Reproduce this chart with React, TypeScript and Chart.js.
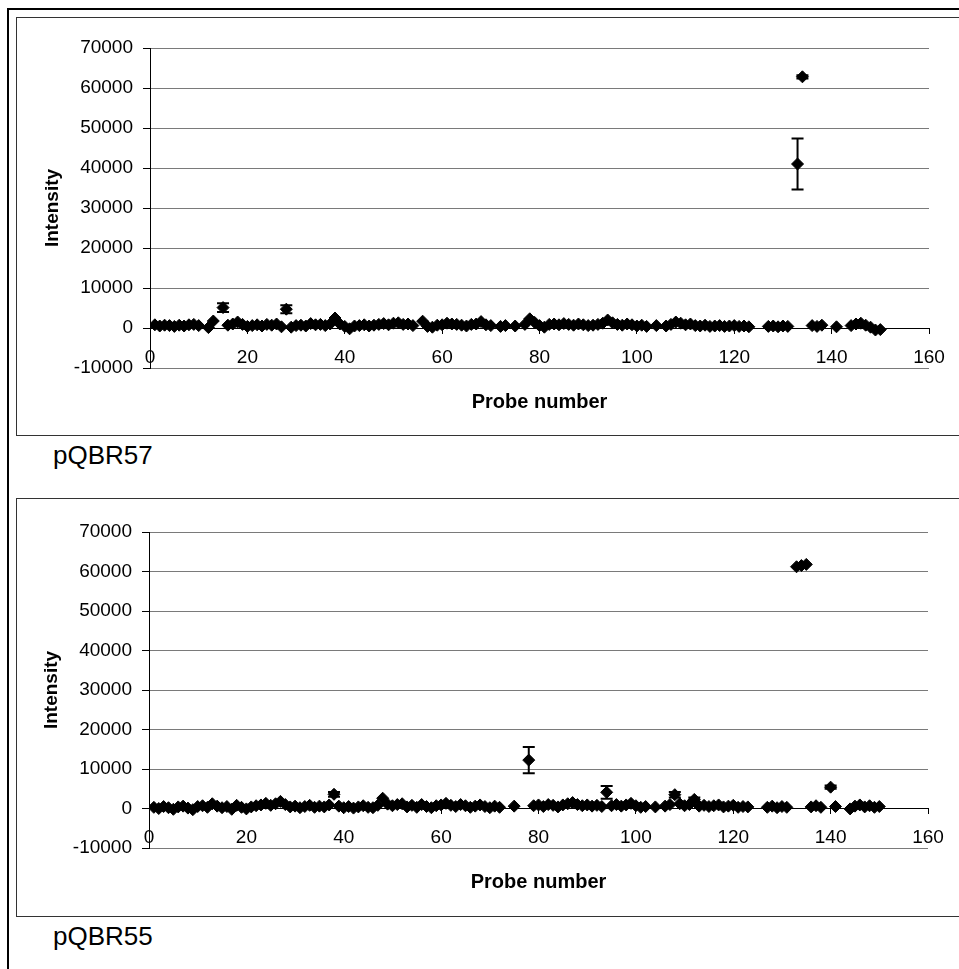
import React, { useEffect, useRef } from "react";
import { Chart, registerables } from "chart.js";

Chart.register(...registerables);

// ---------- data ----------
const probeNumbers: number[] = Array.from({ length: 150 }, (_, i) => i + 1);
const xTickValues = [0, 20, 40, 60, 80, 100, 120, 140, 160];
const yTickValues = [-10000, 0, 10000, 20000, 30000, 40000, 50000, 60000, 70000];

// pQBR57 intensities, probes 1..150 (null = no probe plotted)
const intensity57: (number | null)[] = [
  800, 500, 700, 600, 400, 700, 500, 800, 900, 600,
  null, 100, 1750, null, 5100, 700, 1000, 1500, 900, 400,
  600, 800, 500, 900, 700, 1000, 300, 4700, 200, 600,
  700, 500, 1100, 800, 900, 600, 1000, 2500, 1000, 400,
  -200, 500, 600, 800, 500, 700, 900, 1100, 800, 1200,
  1300, 900, 1000, 600, null, 1700, 400, 200, 700, 800,
  1200, 1000, 900, 700, 500, 900, 1000, 1600, 800, 600,
  null, 400, 600, null, 500, null, 900, 2300, 1400, 600,
  200, 900, 1000, 800, 1100, 900, 700, 1000, 800, 600,
  700, 900, 1200, 2000, 1300, 900, 700, 1000, 800, 500,
  700, 400, null, 600, null, 500, 900, 1500, 1200, 800,
  1000, 600, 500, 700, 400, 500, 600, 400, 500, 600,
  400, 500, 300, null, null, null, 400, 500, 300, 500,
  400, null, 41000, 62800, null, 600, 400, 700, null, null,
  300, null, null, 600, 1000, 1200, 700, 200, -500, -400,
];
const errProbes57 = [15, 28, 133, 134];
const errSizes57 = [1100, 1000, 6400, 400];

// pQBR55 intensities, probes 1..150
const intensity55: (number | null)[] = [
  300, 0, 500, 200, -200, 400, 600, 100, -300, 500,
  700, 300, 1200, 600, 200, 500, -200, 800, 300, -100,
  400, 700, 900, 1300, 800, 1200, 1800, 1000, 400, 600,
  200, 500, 800, 300, 600, 400, 900, 3600, 600, 200,
  500, 100, 400, 700, 300, 200, 800, 2600, 1100, 700,
  1000, 1200, 400, 800, 300, 1000, 500, 200, 700, 900,
  1300, 800, 500, 1000, 700, 300, 600, 900, 500, 200,
  600, 300, null, null, 600, null, null, 12250, 700, 900,
  500, 1000, 800, 400, 900, 1200, 1500, 1000, 700, 900,
  600, 800, 500, 4100, 700, 1000, 600, 900, 1300, 700,
  300, 500, null, 400, null, 600, 1000, 3500, 1200, 700,
  1000, 2300, 600, 800, 500, 700, 900, 400, 600, 800,
  300, 500, 400, null, null, null, 300, 600, 200, 500,
  300, null, 61200, 61500, 61800, 400, 700, 300, null, 5400,
  500, null, null, -100, 600, 900, 400, 700, 300, 500,
];
const errProbes55 = [38, 78, 94, 108, 112, 140];
const errSizes55 = [600, 3300, 1600, 700, 500, 400];

// ---------- plugins ----------
const errorBarPlugin = {
  id: "errorBars",
  afterDatasetsDraw(chart: any, _args: any, opts: any) {
    const { ctx } = chart;
    const xs = chart.scales.x;
    const ys = chart.scales.y;
    const probes: number[] = opts.probes || [];
    const sizes: number[] = opts.sizes || [];
    const values: (number | null)[] = opts.values || [];
    ctx.save();
    ctx.strokeStyle = "#000";
    ctx.lineWidth = 2;
    probes.forEach((p, i) => {
      const v = values[p - 1];
      if (v == null) return;
      const px = xs.getPixelForValue(p);
      const y1 = ys.getPixelForValue(v + sizes[i]);
      const y2 = ys.getPixelForValue(v - sizes[i]);
      ctx.beginPath();
      ctx.moveTo(px, y1);
      ctx.lineTo(px, y2);
      ctx.moveTo(px - 6, y1);
      ctx.lineTo(px + 6, y1);
      ctx.moveTo(px - 6, y2);
      ctx.lineTo(px + 6, y2);
      ctx.stroke();
    });
    ctx.restore();
  },
};

const xTitlePlugin = {
  id: "xTitle",
  afterDraw(chart: any, _args: any, opts: any) {
    const { ctx, chartArea } = chart;
    ctx.save();
    ctx.fillStyle = "#000";
    ctx.font = 'bold 20px "Liberation Sans", Arial, sans-serif';
    ctx.textAlign = "center";
    ctx.textBaseline = "alphabetic";
    ctx.fillText(opts.text, (chartArea.left + chartArea.right) / 2, chartArea.bottom + opts.offset);
    ctx.restore();
  },
};

type Geom = { padLeft: number; axisWidth: number; padTop: number; padRight: number; padBottom: number };

function makeConfig(values: (number | null)[], errProbes: number[], errSizes: number[], g: Geom): any {
  const pts: { x: number; y: number }[] = [];
  probeNumbers.forEach((p, i) => {
    const v = values[i];
    if (v != null) pts.push({ x: p, y: v });
  });
  const font = { family: '"Liberation Sans", Arial, sans-serif', size: 19 };
  return {
    type: "scatter",
    data: {
      datasets: [
        {
          data: pts,
          showLine: false,
          pointStyle: "rectRot",
          pointRadius: 6,
          pointBorderWidth: 1,
          pointBackgroundColor: "#000",
          pointBorderColor: "#000",
        },
      ],
    },
    options: {
      animation: false,
      responsive: false,
      devicePixelRatio: 1,
      layout: { padding: { left: g.padLeft, top: g.padTop, right: g.padRight, bottom: g.padBottom } },
      plugins: {
        legend: { display: false },
        tooltip: { enabled: false },
        errorBars: { probes: errProbes, sizes: errSizes, values },
        xTitle: { text: "Probe number", offset: 40 },
      },
      scales: {
        x: {
          type: "linear",
          position: { y: 0 },
          min: 0,
          max: 160,
          afterBuildTicks: (s: any) => {
            s.ticks = xTickValues.map((v) => ({ value: v }));
          },
          ticks: { font, color: "#000", padding: 13, maxRotation: 0, autoSkip: false, callback: (v: any) => String(v) },
          grid: { drawOnChartArea: false, drawTicks: true, tickLength: 5, tickColor: "#000", color: "#000" },
          border: { display: true, color: "#000", width: 1 },
        },
        y: {
          type: "linear",
          position: "left",
          min: -10000,
          max: 70000,
          afterBuildTicks: (s: any) => {
            s.ticks = yTickValues.map((v) => ({ value: v }));
          },
          afterFit: (s: any) => {
            s.width = g.axisWidth;
          },
          ticks: { font, color: "#000", padding: 10, callback: (v: any) => String(v) },
          grid: { color: "#7a7a7a", lineWidth: 1, tickLength: 7, tickColor: "#000" },
          border: { display: true, color: "#000", width: 1 },
          title: {
            display: true,
            text: "Intensity",
            color: "#000",
            font: { family: '"Liberation Sans", Arial, sans-serif', size: 19, weight: "bold" },
            padding: { top: 4, bottom: 4 },
          },
        },
      },
    },
    plugins: [errorBarPlugin, xTitlePlugin],
  };
}

function ChartCanvas(props: { values: (number | null)[]; errProbes: number[]; errSizes: number[]; geom: Geom }) {
  const ref = useRef<HTMLCanvasElement | null>(null);
  useEffect(() => {
    if (!ref.current) return;
    const chart = new Chart(ref.current, makeConfig(props.values, props.errProbes, props.errSizes, props.geom));
    return () => chart.destroy();
  }, []);
  return <canvas ref={ref} width={942} height={417} style={{ display: "block", width: 942, height: 417 }} />;
}

export default function App() {
  const labelStyle: React.CSSProperties = {
    position: "absolute",
    left: 53,
    fontSize: 26,
    lineHeight: "26px",
    color: "#000",
    fontFamily: '"Liberation Sans", Arial, sans-serif',
    whiteSpace: "nowrap",
  };
  return (
    <div
      style={{
        position: "fixed",
        left: 0,
        top: 0,
        width: 959,
        height: 969,
        background: "#fff",
        overflow: "hidden",
      }}
    >
      <div
        style={{
          position: "absolute",
          left: 7,
          top: 8,
          width: 1100,
          height: 1100,
          borderTop: "2px solid #000",
          borderLeft: "2px solid #000",
        }}
      />
      <div
        style={{
          position: "absolute",
          left: 16,
          top: 17,
          width: 1100,
          height: 417,
          border: "1px solid #333",
          background: "#fff",
        }}
      >
        <ChartCanvas
          values={intensity57}
          errProbes={errProbes57}
          errSizes={errSizes57}
          geom={{ padLeft: 20, axisWidth: 113, padTop: 30, padRight: 30, padBottom: 67 }}
        />
      </div>
      <div style={{ ...labelStyle, top: 442 }}>pQBR57</div>
      <div
        style={{
          position: "absolute",
          left: 16,
          top: 498,
          width: 1100,
          height: 417,
          border: "1px solid #333",
          background: "#fff",
        }}
      >
        <ChartCanvas
          values={intensity55}
          errProbes={errProbes55}
          errSizes={errSizes55}
          geom={{ padLeft: 19, axisWidth: 113, padTop: 33, padRight: 31, padBottom: 68 }}
        />
      </div>
      <div style={{ ...labelStyle, top: 923 }}>pQBR55</div>
    </div>
  );
}
